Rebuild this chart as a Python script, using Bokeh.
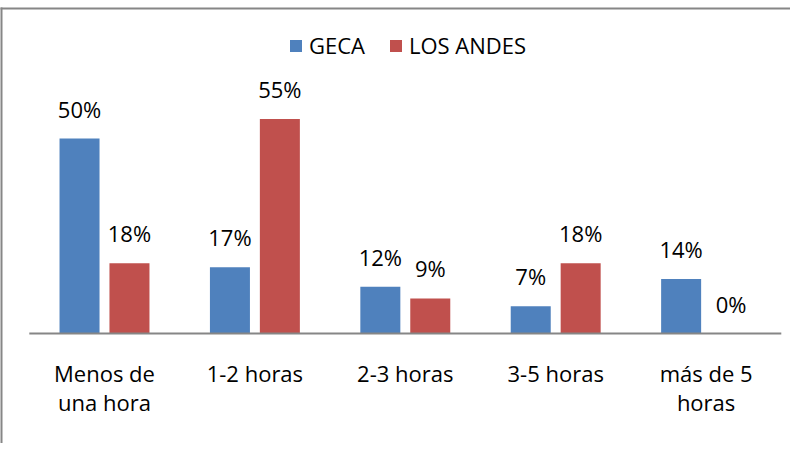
from bokeh.plotting import figure
from bokeh.models import (ColumnDataSource, Range1d, LinearAxis, FixedTicker,
                          Legend, LegendItem, LabelSet)
from bokeh.core.properties import value
from bokeh.embed import file_html
from bokeh.resources import INLINE
import numpy as np

categories = ["Menos de\nuna hora", "1-2 horas", "2-3 horas", "3-5 horas", "más de 5\nhoras"]
geca = [50, 17, 12, 7, 14]
los_andes = [18, 55, 9, 18, 0]
series_names = ["GECA", "LOS ANDES"]
colors = ["#4F81BD", "#C0504D"]

FONT = "Open Sans"
FS = "22px"

idx = np.arange(len(categories))
off = 0.166
bw = 0.266

PX_X = 150.4   # pixels per category
PX_Y = 3.9     # pixels per percent
X0, X1 = -104 / PX_X, 686 / PX_X
Y0, Y1 = -110 / PX_Y, 333 / PX_Y

src_g = ColumnDataSource(dict(x=idx - off, top=geca, lbl=[f"{v}%" for v in geca]))
src_a = ColumnDataSource(dict(x=idx + off, top=los_andes, lbl=[f"{v}%" for v in los_andes]))

p = figure(width=790, height=443, output_backend="svg", toolbar_location=None,
           x_range=Range1d(X0, X1), y_range=Range1d(Y0, Y1),
           x_axis_location=None, y_axis_location=None,
           min_border_left=0, min_border_right=0, min_border_top=0, min_border_bottom=0)
p.grid.visible = False
p.outline_line_color = None
p.background_fill_color = "white"
p.border_fill_color = "white"

rg = p.vbar(x="x", top="top", width=bw, bottom=0, source=src_g, fill_color=colors[0], line_color=None)
ra = p.vbar(x="x", top="top", width=bw, bottom=0, source=src_a, fill_color=colors[1], line_color=None)

# axis line across categories
p.segment(x0=[-0.5], x1=[len(categories) - 0.5], y0=[0], y1=[0], line_color="#868686", line_width=2)

# chart border (top and left edges visible), as thin filled strips
p.quad(left=[X0, X0], right=[X0 + 2 / PX_X, X1], bottom=[Y0, Y1 - 9 / PX_Y],
       top=[Y1 - 7 / PX_Y, Y1 - 7 / PX_Y], fill_color="#868686", line_color=None,
       level="overlay")

first_lines = [c.split("\n")[0] for c in categories]
second_lines = [c.split("\n")[1] if "\n" in c else "" for c in categories]

for labels, standoff in ((first_lines, 18), (second_lines, 47)):
    ax = LinearAxis(ticker=FixedTicker(ticks=list(idx)),
                    major_label_overrides={int(i): c for i, c in zip(idx, labels)})
    ax.fixed_location = 0
    ax.axis_line_color = None
    ax.major_tick_line_color = None
    ax.minor_tick_line_color = None
    ax.major_label_text_font = FONT
    ax.major_label_text_font_size = FS
    ax.major_label_text_color = "black"
    ax.major_label_standoff = standoff
    p.add_layout(ax, "below")

for s in (src_g, src_a):
    p.add_layout(LabelSet(x="x", y="top", text="lbl", source=s, text_align="center",
                          text_baseline="alphabetic", y_offset=21, text_font=value(FONT),
                          text_font_size=value(FS), text_color="black"))

leg = Legend(items=[LegendItem(label=series_names[0], renderers=[rg]),
                    LegendItem(label=series_names[1], renderers=[ra])],
             orientation="horizontal", location=(288, 383),
             glyph_width=15, glyph_height=15, label_standoff=6, spacing=23,
             padding=0, margin=0, border_line_color=None, background_fill_alpha=0,
             label_text_font=FONT, label_text_font_size=FS, label_text_color="black")
p.add_layout(leg)

open("out.html", "w").write(file_html(p, INLINE))
